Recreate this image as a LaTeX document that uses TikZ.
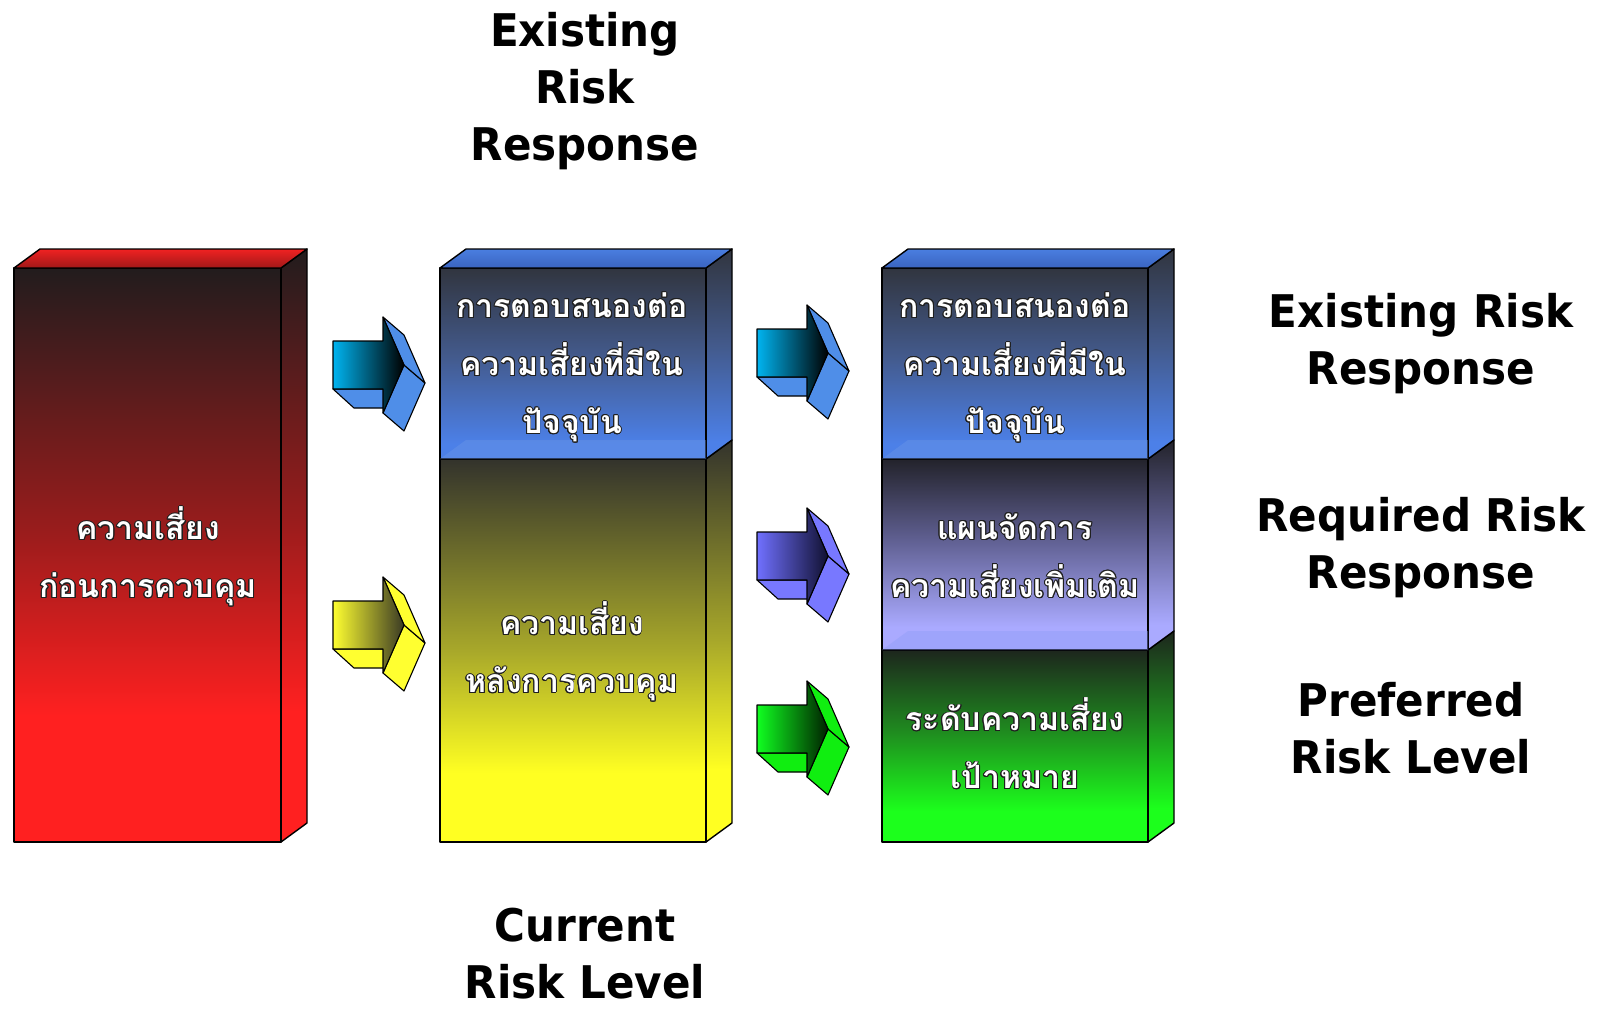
\documentclass[tikz,border=0pt]{standalone}
\usepackage{fontspec}
\usepackage{contour}
\newfontfamily\thaifont[Script=Thai]{Loma}
\newfontfamily\labelfont[FakeStretch=0.935]{DejaVu Sans}
\contourlength{0.9pt}
\contournumber{16}

% face colours
\definecolor{redBase}{HTML}{FF2020}
\definecolor{redMid}{HTML}{9A1C1C}
\definecolor{redTop}{HTML}{221C1D}
\definecolor{yelBase}{HTML}{FFFF22}
\definecolor{yelMid}{HTML}{A8A82A}
\definecolor{yelTop}{HTML}{33332C}
\definecolor{bluBase}{HTML}{4C80E8}
\definecolor{bluMid}{HTML}{435A8C}
\definecolor{bluTop}{HTML}{31353F}
\definecolor{purBase}{HTML}{AAAAFF}
\definecolor{purMid}{HTML}{5C5C8C}
\definecolor{purTop}{HTML}{23232B}
\definecolor{grnBase}{HTML}{1CFF1C}
\definecolor{grnMid}{HTML}{1F8A1F}
\definecolor{grnTop}{HTML}{1D261D}
\definecolor{capBlue}{HTML}{4A7EE0}
\definecolor{capBlueDark}{HTML}{3A64C0}
\definecolor{capRed}{HTML}{F02222}
\definecolor{capRedDark}{HTML}{A01818}
% arrow colours
\definecolor{arCyan}{HTML}{00B4F0}
\definecolor{arBlueSide}{HTML}{4F8EE8}
\definecolor{arYel}{HTML}{FFFF30}
\definecolor{arYelDark}{HTML}{3A3A24}
\definecolor{arPur}{HTML}{7070FF}
\definecolor{arPurDark}{HTML}{101030}
\definecolor{arPurSide}{HTML}{7878FF}
\definecolor{arGrn}{HTML}{10FF20}
\definecolor{arGrnDark}{HTML}{002000}
\definecolor{arGrnSide}{HTML}{10EE10}
\definecolor{glow}{HTML}{202020}

% vertical shadings: the path spans 25bp (bottom) to 75bp (top)
\pgfdeclareverticalshading{redfill}{100bp}{color(0bp)=(redBase); color(36bp)=(redBase); color(52bp)=(redMid); color(75bp)=(redTop); color(100bp)=(redTop)}
\pgfdeclareverticalshading{yelfill}{100bp}{color(0bp)=(yelBase); color(34bp)=(yelBase); color(50bp)=(yelMid); color(75bp)=(yelTop); color(100bp)=(yelTop)}
\pgfdeclareverticalshading{blufill}{100bp}{color(0bp)=(bluBase); color(29bp)=(bluBase); color(52bp)=(bluMid); color(75bp)=(bluTop); color(100bp)=(bluTop)}
\pgfdeclareverticalshading{purfill}{100bp}{color(0bp)=(purBase); color(31bp)=(purBase); color(55bp)=(purMid); color(75bp)=(purTop); color(100bp)=(purTop)}
\pgfdeclareverticalshading{grnfill}{100bp}{color(0bp)=(grnBase); color(33bp)=(grnBase); color(54bp)=(grnMid); color(75bp)=(grnTop); color(100bp)=(grnTop)}

\tikzset{
  edge/.style={draw=black, line width=1.4pt, line join=round},
  arrowedge/.style={draw=black, line width=1.1pt, line join=round},
  thaitext/.style={text=white, align=center, inner sep=0pt,
    font=\thaifont\bfseries\fontsize{32}{58}\selectfont},
  blacklabel/.style={text=black, align=center, inner sep=0pt,
    font=\labelfont\bfseries\fontsize{45}{57}\selectfont},
}

% one layer of a cuboid: front face and right side face
% #1 left x, #2 right x, #3 top y, #4 bottom y, #5 shading
\newcommand\drawpart[5]{%
  \shade[shading=#5] (#1,#3) rectangle (#2,#4);
  \shade[shading=#5] (#2,#4) -- (#2,#3) -- ++(26,-19) -- ({#2+26},{#4-19}) -- cycle;
  \draw[edge] (#1,#3) rectangle (#2,#4);
  \draw[edge] (#2,#4) -- (#2,#3) -- ++(26,-19) -- ({#2+26},{#4-19}) -- cycle;
}
% lid of a cuboid: #1 left x, #2 right x, #3 top y, #4 back colour, #5 front colour
\newcommand\drawlid[5]{%
  \shadedraw[edge, top color=#4, bottom color=#5] (#1,#3) -- ++(26,-19) -- ({#2+26},{#3-19}) -- (#2,#3) -- cycle;
}
% translucent floor seen through a layer: #1 left x, #2 right x, #3 bottom y, #4 colour
\newcommand\drawfloor[4]{%
  \fill[#4, opacity=0.4] (#1,#3) -- ++(26,-19) -- (#2,{#3-19}) -- (#2,#3) -- cycle;
}
% 3D block arrow: #1,#2 top-left of shaft, #3 front light colour, #4 front dark colour, #5 side colour
\newcommand\blockarrow[5]{%
  \begin{scope}[shift={(#1,#2)}]
    \filldraw[arrowedge, fill=#5] (0,48) -- (50,48) -- (71,67) -- (21,67) -- cycle;
    \filldraw[arrowedge, fill=#5] (71,24) -- (50,72) -- (71,90) -- (92,42) -- cycle;
    \filldraw[arrowedge, fill=#5] (50,-24) -- (71,24) -- (92,42) -- (71,-6) -- cycle;
    \shadedraw[arrowedge, left color=#3, right color=#4]
      (0,0) -- (50,0) -- (50,-24) -- (71,24) -- (50,72) -- (50,48) -- (0,48) -- cycle;
  \end{scope}}

\begin{document}
\begin{tikzpicture}[x=1pt,y=-1pt]
\useasboundingbox (0,0) rectangle (1603,1011);
\clip (0,0) rectangle (1603,1011);
\fill[white] (0,0) rectangle (1603,1011);

% risk before control
\drawpart{14}{281}{268}{842}{redfill}
\drawlid{14}{281}{268}{capRed}{capRedDark}

% current risk level
\drawpart{440}{706}{459}{842}{yelfill}
\drawpart{440}{706}{268}{459}{blufill}
\drawfloor{440}{706}{459}{capBlue!80!white}
\drawlid{440}{706}{268}{capBlue}{capBlueDark}

% target risk level
\drawpart{882}{1148}{650}{842}{grnfill}
\drawpart{882}{1148}{459}{650}{purfill}
\drawfloor{882}{1148}{650}{purBase!70!capBlue}
\drawpart{882}{1148}{268}{459}{blufill}
\drawfloor{882}{1148}{459}{capBlue!80!white}
\drawlid{882}{1148}{268}{capBlue}{capBlueDark}

% arrows between the stages
\blockarrow{333}{341}{arCyan}{black}{arBlueSide}
\blockarrow{333}{601}{arYel}{arYelDark}{arYel}
\blockarrow{757}{329}{arCyan}{black}{arBlueSide}
\blockarrow{757}{532}{arPur}{arPurDark}{arPurSide}
\blockarrow{757}{705}{arGrn}{arGrnDark}{arGrnSide}

% texts inside the blocks
\node[thaitext] (before) at (148,557) {\contour{glow}{ความเสี่ยง}\\\contour{glow}{ก่อนการควบคุม}};
\node[thaitext] (existA) at (572,368) {\contour{glow}{การตอบสนองต่อ}\\\contour{glow}{ความเสี่ยงที่มีใน}\\\contour{glow}{ปัจจุบัน}};
\node[thaitext] (after) at (572,652) {\contour{glow}{ความเสี่ยง}\\\contour{glow}{หลังการควบคุม}};
\node[thaitext] (existB) at (1015,368) {\contour{glow}{การตอบสนองต่อ}\\\contour{glow}{ความเสี่ยงที่มีใน}\\\contour{glow}{ปัจจุบัน}};
\node[thaitext] (plan) at (1015,556) {\contour{glow}{แผนจัดการ}\\\contour{glow}{ความเสี่ยงเพิ่มเติม}};
\node[thaitext] (target) at (1015,744) {\contour{glow}{ระดับความเสี่ยง}\\\contour{glow}{เป้าหมาย}};

% English captions
\node[blacklabel] (capTop) at (585,91) {Existing\\Risk\\Response};
\node[blacklabel] (capBottom) at (585,954) {Current\\Risk Level};
\node[blacklabel] (capExisting) at (1421,344) {Existing Risk\\Response};
\node[blacklabel] (capRequired) at (1421,548) {Required Risk\\Response};
\node[blacklabel] (capPreferred) at (1411,728) {Preferred\\Risk Level};
\end{tikzpicture}
\end{document}
